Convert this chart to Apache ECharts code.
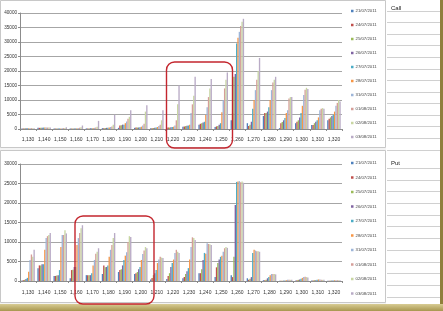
<!DOCTYPE html>
<html><head><meta charset="utf-8">
<script src="https://cdn.jsdelivr.net/npm/echarts@6/dist/echarts.min.js"></script>
<style>html,body{margin:0;padding:0;background:#fff}#c{width:443px;height:311px}</style>
</head><body><div id="c"></div>
<script>
var strikes = ['1,130','1,140','1,150','1,160','1,170','1,180','1,190','1,200','1,210','1,220','1,230','1,240','1,250','1,260','1,270','1,280','1,290','1,300','1,310','1,320'];
var dates = ['21/07/2011','24/07/2011','25/07/2011','26/07/2011','27/07/2011','28/07/2011','31/07/2011','01/08/2011','02/08/2011','03/08/2011'];
var callTicks = [0,5000,10000,15000,20000,25000,30000,35000,40000];
var putTicks = [0,5000,10000,15000,20000,25000,30000];

// Call open interest per date (one value per strike)
var call_2107 = [200,400,150,150,200,300,400,400,300,400,800,1500,700,3000,2000,4500,300,2000,1400,3000];
var call_2407 = [200,400,150,150,200,300,1200,500,300,500,900,1800,900,5500,1000,5500,2000,2500,1400,3500];
var call_2507 = [200,450,150,150,200,350,1300,500,350,500,1000,2000,1000,18000,1500,5500,2400,3000,2000,4000];
var call_2607 = [250,450,200,200,250,400,1500,500,400,600,1100,2200,1500,19000,2500,6000,3000,4000,2500,4500];
var call_2707 = [250,500,200,200,300,400,1500,600,500,700,1200,2500,2000,29500,7000,7500,3800,5500,3000,4800];
var call_2807 = [300,500,200,250,350,500,2000,800,700,800,1500,4800,5800,31500,10000,10000,5500,8000,4000,6000];
var call_3107 = [300,500,250,300,400,700,2600,1200,1000,1200,5500,7500,10000,33500,13400,13400,6500,11700,6500,8000];
var call_0108 = [300,500,300,400,500,900,3500,1800,1500,3000,8500,11000,14000,35500,17000,16000,10500,13500,7000,9000];
var call_0208 = [300,550,350,600,800,1500,4200,6000,3000,8500,11500,14000,17000,37000,20000,17000,11000,14200,7200,10000];
var call_0308 = [300,500,600,1200,2800,4900,6500,8200,6500,15000,18000,17200,19500,38000,24500,18000,11000,13800,7000,9500];

// Put open interest per date (one value per strike)
var put_2107 = [100,3300,1300,700,1500,1800,2300,1800,400,500,700,2000,1000,1500,700,200,50,100,100,50];
var put_2407 = [200,4000,1300,2800,1500,4000,2800,2000,800,1300,1000,2000,3500,1000,300,200,50,200,100,50];
var put_2507 = [300,4000,1400,2900,1500,3500,3000,2300,1500,2000,1800,3000,4600,6200,600,300,50,300,200,100];
var put_2607 = [500,4300,1500,3600,1500,3600,4000,3000,2000,3600,2500,5400,5500,19500,1000,700,100,400,200,100];
var put_2707 = [800,4300,2800,3600,2000,4000,5400,3600,2800,4600,3300,7200,6200,25400,7200,1000,100,600,300,100];
var put_2807 = [2400,8000,8700,9200,4000,6200,6500,5400,4600,5500,5500,7000,6500,25500,8000,1500,200,800,400,200];
var put_3107 = [5400,11000,11800,11000,5400,8000,7400,6900,5500,7200,8700,9700,7500,25600,7800,1800,300,1000,400,200];
var put_0108 = [6800,11500,11800,12300,7000,9200,10000,7800,6200,8000,11200,9500,8400,25300,7600,1800,300,1100,300,200];
var put_0208 = [6200,11800,13000,13500,7500,11000,11500,8700,6000,7500,11000,9400,8700,25500,7600,1800,300,1000,300,200];
var put_0308 = [8000,12300,12200,14300,8400,12300,11300,8400,5900,7200,10500,9200,8500,25200,7500,1700,300,900,300,200];

var callSeries = [call_2107,call_2407,call_2507,call_2607,call_2707,call_2807,call_3107,call_0108,call_0208,call_0308];
var putSeries = [put_2107,put_2407,put_2507,put_2607,put_2707,put_2807,put_3107,put_0108,put_0208,put_0308];

var colors = ['#4F81BD','#C0504D','#9BBB59','#8064A2','#4BACC6','#F79646','#9DB5D8','#D59E98','#C8D6A2','#B9ABC6'];
var FONT = 'Liberation Sans';

var series = [];
dates.forEach(function(d,i){
  series.push({name:d,type:'bar',xAxisIndex:0,yAxisIndex:0,data:callSeries[i],barGap:'0%',barCategoryGap:'16%',itemStyle:{color:colors[i]}});
});
dates.forEach(function(d,i){
  series.push({name:d,type:'bar',xAxisIndex:1,yAxisIndex:1,data:putSeries[i],barGap:'0%',barCategoryGap:'16%',itemStyle:{color:colors[i]}});
});

function xAx(gi,margin){
  return {type:'category',gridIndex:gi,data:strikes,
    axisLine:{lineStyle:{color:'#8c8c8c',width:1}},
    axisTick:{show:true,length:2,lineStyle:{color:'#8c8c8c'}},
    axisLabel:{fontFamily:FONT,fontSize:5,color:'#333',margin:margin,interval:0}};
}
function yAx(gi,max,ticks){
  return {type:'value',gridIndex:gi,min:0,max:max,interval:5000,
    axisLine:{show:true,lineStyle:{color:'#8c8c8c'}},
    axisTick:{show:true,length:2,lineStyle:{color:'#8c8c8c'}},
    splitLine:{lineStyle:{color:'#a6a6a6',width:1.2}},
    axisLabel:{fontFamily:FONT,fontSize:4.6,color:'#333',margin:3,
      formatter:function(v){return ticks.indexOf(v)>=0?String(v):'';}}};
}

function sheetLines(y0,y1,step,start){
  var arr=[];
  for(var y=start;y<y1;y+=step){
    if(y<y0)continue;
    arr.push({type:'line',z:-5,shape:{x1:387,y1:Math.round(y)+0.5,x2:440,y2:Math.round(y)+0.5},style:{stroke:'#d0d0d0',lineWidth:1}});
  }
  return arr;
}

var graphics = [
  {type:'rect',z:-20,shape:{x:0,y:0,width:443,height:311},style:{fill:'#f4f4f4'}},
  {type:'rect',z:-19,shape:{x:386,y:0,width:55,height:304},style:{fill:'#ffffff'}},
  {type:'rect',z:-15,shape:{x:0.5,y:0.5,width:385,height:147},style:{fill:'#ffffff',stroke:'#c8c8c8',lineWidth:1}},
  {type:'rect',z:-15,shape:{x:0.5,y:150.5,width:385,height:152},style:{fill:'#ffffff',stroke:'#c8c8c8',lineWidth:1}},
  {type:'rect',z:-4,shape:{x:440,y:0,width:3,height:311},style:{fill:'#8f7f3c'}},
  {type:'rect',z:-4,shape:{x:0,y:304,width:443,height:7},style:{fill:new echarts.graphic.LinearGradient(0,0,0,1,[{offset:0,color:'#d8cc94'},{offset:1,color:'#a8974f'}])}},
  {type:'text',z:5,left:391,top:5,style:{text:'Call',font:'6px '+FONT,fill:'#222'}},
  {type:'text',z:5,left:391,top:160,style:{text:'Put',font:'6px '+FONT,fill:'#222'}},
  {type:'rect',z:100,shape:{x:166.5,y:62,width:66,height:86,r:8},style:{fill:'none',stroke:'#c3262e',lineWidth:1.4}},
  {type:'rect',z:100,shape:{x:75,y:216,width:79,height:88,r:8},style:{fill:'none',stroke:'#c3262e',lineWidth:1.4}}
].concat(sheetLines(0,150,11.6,10.5)).concat(sheetLines(155,304,11.7,168));

function legend(top,gap){
  return {data:dates,orient:'vertical',left:351,top:top,itemWidth:2.5,itemHeight:2.5,itemGap:gap,icon:'rect',
    selectedMode:false,textStyle:{fontFamily:FONT,fontSize:4.3,color:'#444',padding:[0,0,0,-3]},padding:0};
}

var chart = echarts.init(document.getElementById('c'),null,{renderer:'canvas'});
chart.setOption({
  animation:false,
  color:colors,
  grid:[{left:20,top:13,width:322,height:116},{left:20,top:164,width:322,height:117}],
  xAxis:[xAx(0,8),xAx(1,9)],
  yAxis:[yAx(0,40000,callTicks),yAx(1,30000,putTicks)],
  legend:[legend(9,10),legend(161,10.5)],
  graphic:graphics,
  series:series
});
</script></body></html>
